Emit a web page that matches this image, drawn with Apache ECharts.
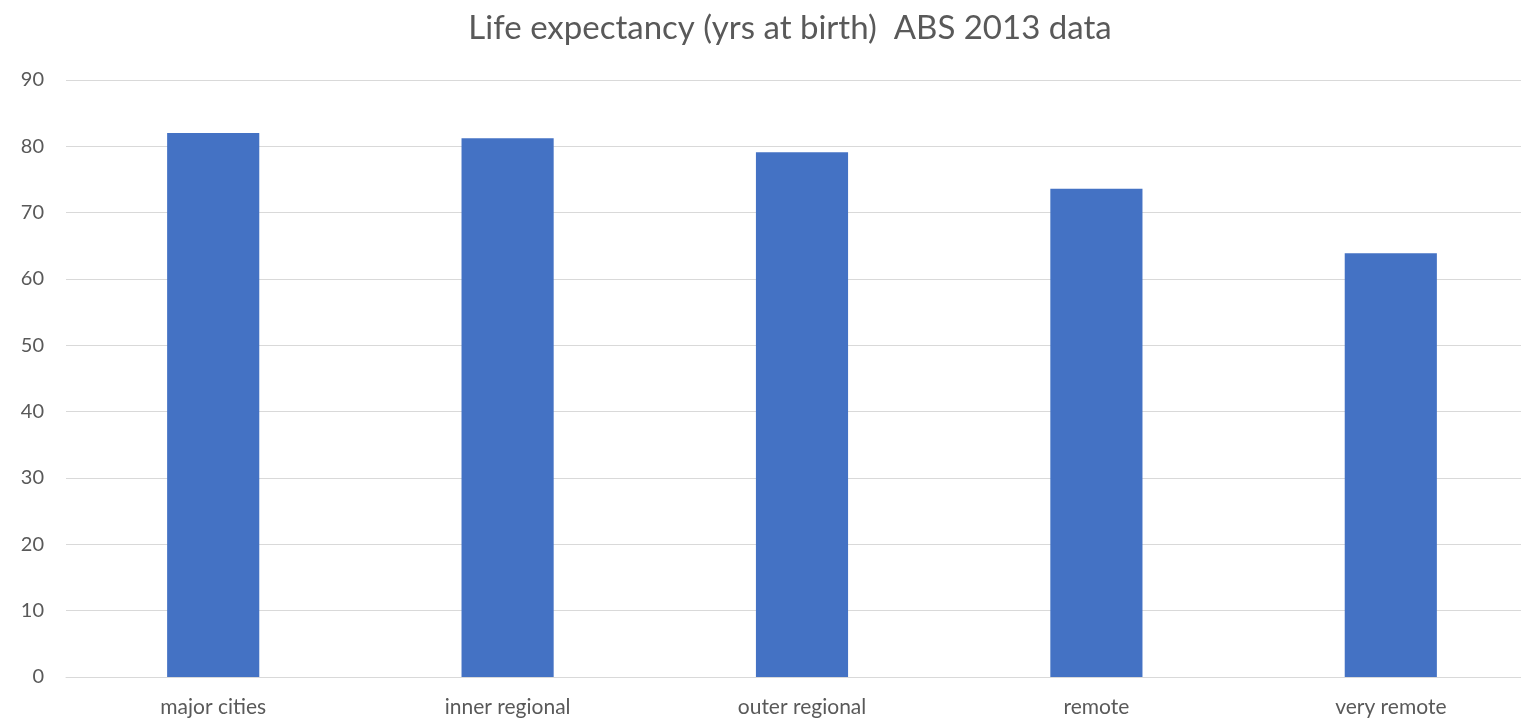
<!DOCTYPE html>
<html>
<head>
<meta charset="utf-8">
<title>Life expectancy</title>
<script src="https://cdn.jsdelivr.net/npm/echarts@6/dist/echarts.min.js"></script>
<style>
    html, body { margin: 0; padding: 0; background: #fff; }
    #chart { width: 1521px; height: 723px; }
</style>
</head>
<body>
<div id="chart"></div>
<script>
// 数据
const categories = ['major cities', 'inner regional', 'outer regional', 'remote', 'very remote'];
const lifeExpectancy = [82.0, 81.2, 79.1, 73.6, 63.9];
const yTicks = [0, 10, 20, 30, 40, 50, 60, 70, 80, 90];

const fontFamily = 'Lato, "Open Sans", sans-serif';
const textColor = '#595959';

var myChart = echarts.init(document.getElementById('chart'));

var option = {
    animation: false,
    title: {
        text: 'Life expectancy (yrs at birth)  ABS 2013 data',
        left: 785,
        top: 7,
        textAlign: 'center',
        textStyle: {
            fontFamily: fontFamily,
            fontSize: 33,
            fontWeight: 'normal',
            color: textColor
        }
    },
    grid: {
        left: 66,
        width: 1472,   // 图表右侧被裁掉一部分
        top: 80,
        bottom: 46,
        containLabel: false,
        outerBoundsMode: 'none'
    },
    xAxis: {
        type: 'category',
        data: categories,
        axisLine: { lineStyle: { color: '#d9d9d9', width: 1 } },
        axisTick: { show: false },
        axisLabel: {
            color: textColor,
            fontFamily: fontFamily,
            fontSize: 21,
            margin: 20
        }
    },
    yAxis: {
        type: 'value',
        min: yTicks[0],
        max: yTicks[yTicks.length - 1],
        interval: 10,
        axisLine: { show: false },
        axisTick: { show: false },
        splitLine: { lineStyle: { color: '#d9d9d9', width: 1 } },
        axisLabel: {
            color: textColor,
            fontFamily: fontFamily,
            fontSize: 20,
            margin: 22
        }
    },
    series: [{
        name: 'Life expectancy',
        type: 'bar',
        data: lifeExpectancy,
        barWidth: '31.3%',
        itemStyle: { color: '#4472c4' }
    }]
};

myChart.setOption(option);
</script>
</body>
</html>
